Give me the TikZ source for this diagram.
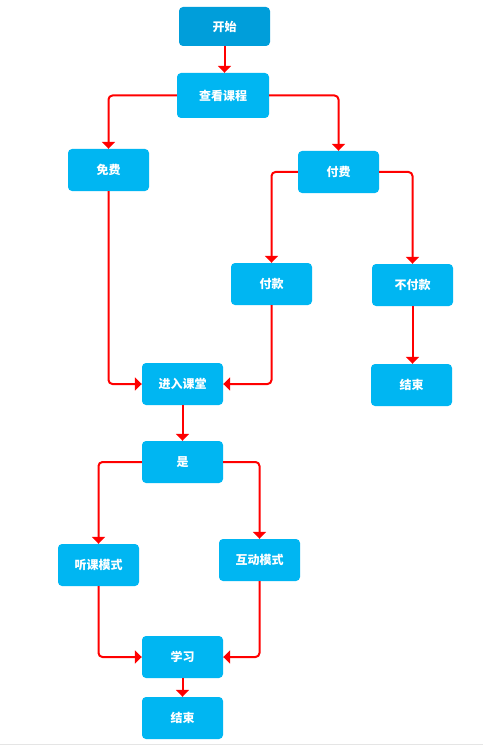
\documentclass[tikz,border=0pt]{standalone}
\usepackage{fontspec}
\setmainfont{Noto Sans CJK SC}
\usetikzlibrary{arrows.meta}
\definecolor{boxblue}{RGB}{0,182,242}
\definecolor{startblue}{RGB}{0,158,218}
\definecolor{linered}{RGB}{255,0,0}
\tikzset{
  box/.style={rectangle, rounded corners=4pt, fill=boxblue, minimum width=81pt, minimum height=42pt, inner sep=0pt, text=white, font=\fontsize{12}{14}\selectfont\bfseries},
  conn/.style={draw=linered, line width=2pt, rounded corners=4pt, -{Triangle[width=13pt,length=7pt]}}
}
\begin{document}
\begin{tikzpicture}[x=1pt,y=-1pt]
\fill[white] (0,0) rectangle (483,746);
\useasboundingbox (0,0) rectangle (483,746);
\draw[black!10, line width=1pt] (0,744.5) -- (483,744.5);
\node[box, fill=startblue, minimum width=91pt, minimum height=39pt] (start) at (224.5,26.5) {开始};
\node[box, minimum width=92pt, minimum height=45pt] (view) at (223,95.5) {查看课程};
\node[box] (free) at (108.5,170) {免费};
\node[box] (paid) at (338.5,172) {付费};
\node[box] (pay) at (271.5,284) {付款};
\node[box] (nopay) at (412.5,285) {不付款};
\node[box] (end1) at (411.5,385) {结束};
\node[box] (enter) at (182.5,384) {进入课堂};
\node[box] (yes) at (182.5,462) {是};
\node[box] (listen) at (98.5,565) {听课模式};
\node[box] (inter) at (259.5,560) {互动模式};
\node[box] (learn) at (182.5,657) {学习};
\node[box] (end2) at (182.5,718) {结束};

\draw[conn] (start.south) -- (start.south |- view.north);
\draw[conn] (view.west) -| (free.north);
\draw[conn] (view.east) -| (paid.north);
\draw[conn] (paid.west) -| (pay.north);
\draw[conn] (paid.east) -| (nopay.north);
\draw[conn] (nopay.south) -- (nopay.south |- end1.north);
\draw[conn] (free.south) |- (enter.west);
\draw[conn] (pay.south) |- (enter.east);
\draw[conn] (enter.south) -- (yes.north);
\draw[conn] (yes.west) -| (listen.north);
\draw[conn] (yes.east) -| (inter.north);
\draw[conn] (listen.south) |- (learn.west);
\draw[conn] (inter.south) |- (learn.east);
\draw[conn] (learn.south) -- (end2.north);
\end{tikzpicture}
\end{document}
